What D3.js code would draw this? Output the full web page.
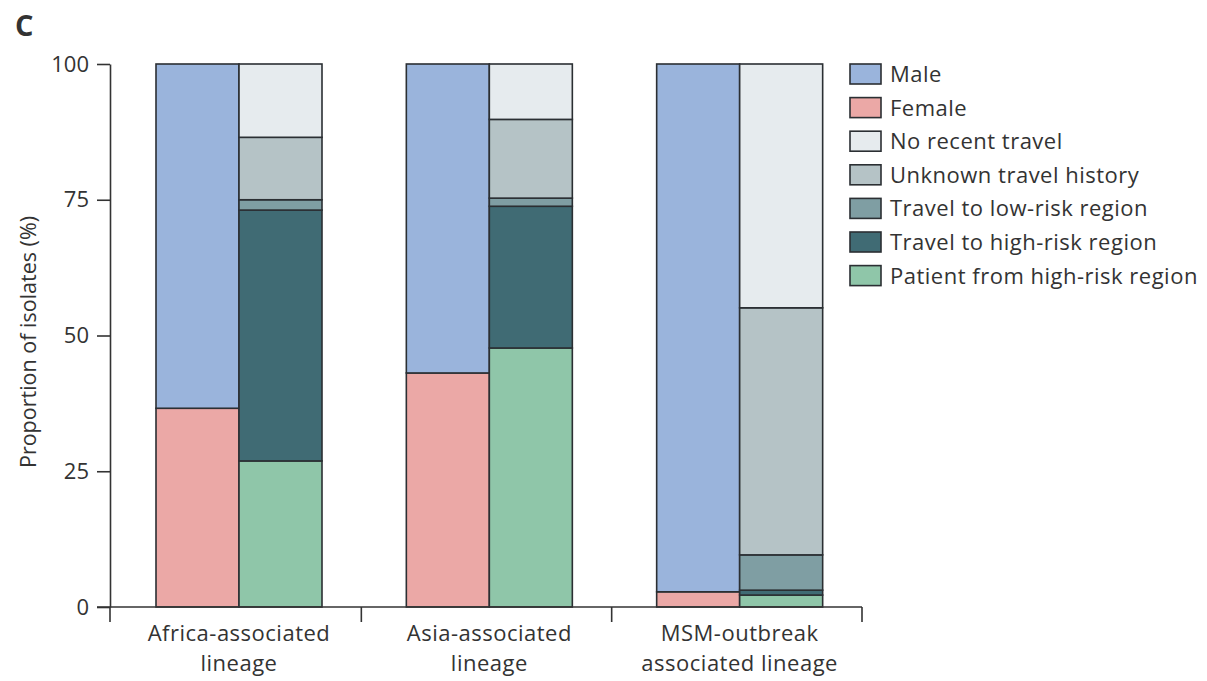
<!DOCTYPE html>
<html>
<head>
<meta charset="utf-8">
<script src="https://cdn.jsdelivr.net/npm/d3@7"></script>
<style>
  body { margin: 0; background: #fff; }
  svg text { font-family: "Open Sans", "Noto Sans", sans-serif; fill: #333; }
</style>
</head>
<body>
<svg id="chart" width="1207" height="681"></svg>
<script>
// Lineages shown along the x axis
const lineages = ["Africa", "Asia", "MSM"];
const lineageLabels = [
  ["Africa-associated", "lineage"],
  ["Asia-associated", "lineage"],
  ["MSM-outbreak", "associated lineage"]
];

// Sex split (%) per lineage
const sexKeys = ["Female", "Male"];
const female = [36.6, 43.1, 2.8];
const male = [63.4, 56.9, 97.2];

// Travel history split (%) per lineage, bottom to top
const travelKeys = ["Patient from high-risk region", "Travel to high-risk region",
  "Travel to low-risk region", "Unknown travel history", "No recent travel"];
const patientHighRisk = [26.9, 47.7, 2.2];
const travelHighRisk = [46.2, 26.1, 0.9];
const travelLowRisk = [1.9, 1.5, 6.5];
const unknownTravel = [11.5, 14.5, 45.5];
const noRecentTravel = [13.5, 10.2, 44.9];

const yTicks = [0, 25, 50, 75, 100];

const legendKeys = ["Male", "Female", "No recent travel", "Unknown travel history",
  "Travel to low-risk region", "Travel to high-risk region", "Patient from high-risk region"];
const colors = {
  "Male": "#9ab4dc",
  "Female": "#eba8a6",
  "No recent travel": "#e6ebee",
  "Unknown travel history": "#b5c3c6",
  "Travel to low-risk region": "#7f9ea3",
  "Travel to high-risk region": "#406b74",
  "Patient from high-risk region": "#8fc6a9"
};

const svg = d3.select("#chart");

const y = d3.scaleLinear().domain([0, 100]).range([607, 64]);
const x = d3.scaleBand().domain(lineages).range([111, 862]);
const inner = d3.scaleBand().domain(["sex", "travel"]).range([45, 211]);

// Build stacked rows
const sexRows = lineages.map((l, i) => ({ lineage: l, Female: female[i], Male: male[i] }));
const travelRows = lineages.map((l, i) => ({
  lineage: l,
  "Patient from high-risk region": patientHighRisk[i],
  "Travel to high-risk region": travelHighRisk[i],
  "Travel to low-risk region": travelLowRisk[i],
  "Unknown travel history": unknownTravel[i],
  "No recent travel": noRecentTravel[i]
}));

function drawStack(rows, keys, sub) {
  const series = d3.stack().keys(keys)(rows);
  svg.append("g").selectAll("g")
    .data(series).join("g")
    .attr("fill", d => colors[d.key])
    .selectAll("rect")
    .data(d => d).join("rect")
    .attr("x", d => x(d.data.lineage) + inner(sub))
    .attr("width", inner.bandwidth())
    .attr("y", d => y(d[1]))
    .attr("height", d => y(d[0]) - y(d[1]))
    .attr("stroke", "#2b2f33")
    .attr("stroke-width", 1.6);
}
drawStack(sexRows, sexKeys, "sex");
drawStack(travelRows, travelKeys, "travel");

// Y axis
const yAxis = svg.append("g")
  .attr("transform", "translate(110,0)")
  .call(d3.axisLeft(y).tickValues(yTicks).tickSize(13).tickSizeOuter(0).tickPadding(8));
yAxis.select(".domain").attr("stroke", "#333").attr("stroke-width", 1.6);
yAxis.selectAll(".tick line").attr("stroke", "#333").attr("stroke-width", 1.6);
yAxis.selectAll(".tick text").style("font-size", "22px").attr("fill", "#333");
// extend the vertical axis below the baseline
svg.append("line")
  .attr("x1", 110).attr("x2", 110).attr("y1", y(0)).attr("y2", 622)
  .attr("stroke", "#333").attr("stroke-width", 1.6);

// X axis baseline and separators between lineages
svg.append("line")
  .attr("x1", 97).attr("x2", 862).attr("y1", y(0)).attr("y2", y(0))
  .attr("stroke", "#333").attr("stroke-width", 1.6);
const bounds = lineages.slice(1).map(l => x(l)).concat([x.range()[1]]);
svg.append("g").selectAll("line")
  .data(bounds).join("line")
  .attr("x1", d => d).attr("x2", d => d)
  .attr("y1", y(0)).attr("y2", 622)
  .attr("stroke", "#333").attr("stroke-width", 1.6);

// Lineage labels
lineages.forEach((l, i) => {
  const cx = x(l) + (inner.range()[0] + inner.range()[1]) / 2;
  const t = svg.append("text")
    .attr("text-anchor", "middle")
    .style("font-size", "22px")
    .style("letter-spacing", "0.5px");
  lineageLabels[i].forEach((line, j) => {
    t.append("tspan").attr("x", cx).attr("y", 641 + j * 30).text(line);
  });
});

// Y axis title
svg.append("text")
  .attr("transform", "translate(36,342) rotate(-90)")
  .attr("text-anchor", "middle")
  .style("font-size", "21.5px")
  .text("Proportion of isolates (%)");

// Panel letter
svg.append("text")
  .attr("x", 15).attr("y", 36)
  .style("font-size", "29px")
  .style("font-weight", "bold")
  .text("C");

// Legend
const legend = svg.append("g").selectAll("g")
  .data(legendKeys).join("g")
  .attr("transform", (d, i) => `translate(850,${64 + i * 33.6})`);
legend.append("rect")
  .attr("width", 31).attr("height", 20)
  .attr("fill", d => colors[d])
  .attr("stroke", "#2b2f33").attr("stroke-width", 1.6);
legend.append("text")
  .attr("x", 40).attr("y", 18)
  .style("font-size", "22px")
  .style("letter-spacing", "0.5px")
  .text(d => d);
</script>
</body>
</html>
